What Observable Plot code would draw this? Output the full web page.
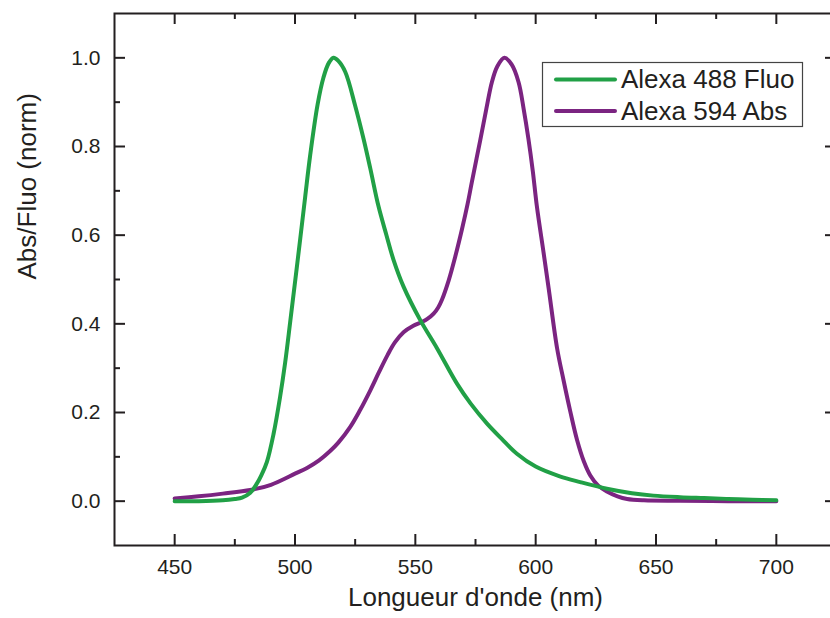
<!DOCTYPE html>
<html>
<head>
<meta charset="utf-8">
<script src="https://cdn.jsdelivr.net/npm/d3@7"></script>
<script src="https://cdn.jsdelivr.net/npm/@observablehq/plot@0.6"></script>
<style>
  html, body { margin: 0; padding: 0; background: #fff; overflow: hidden; }
  #wrap { position: relative; width: 830px; height: 618px; overflow: hidden; }
  #wrap svg { max-width: none !important; }
</style>
</head>
<body>
<div id="wrap"></div>
<script>
// ---- data ----
const fluoWavelength = [450, 460, 470, 475, 478, 481.4, 484.2, 486, 488.3, 491.1, 493.8, 495.9, 498, 500.1, 502.2, 504.2, 506.3, 509.4, 511.8, 514, 516, 518, 520.9, 525, 528.5, 531.3, 534.7, 538, 540.9, 545.1, 552, 559, 567.3, 573, 579.8, 586, 592.2, 600, 610, 618.5, 629.6, 640, 648.9, 660, 670, 680, 690, 700];
const fluoValue      = [0.0, 0.0, 0.002, 0.005, 0.008, 0.019, 0.040, 0.058, 0.088, 0.152, 0.235, 0.312, 0.404, 0.498, 0.593, 0.685, 0.78, 0.895, 0.955, 0.988, 1.0, 0.993, 0.968, 0.892, 0.817, 0.75, 0.665, 0.6, 0.545, 0.484, 0.409, 0.345, 0.265, 0.22, 0.175, 0.14, 0.107, 0.078, 0.056, 0.043, 0.028, 0.018, 0.0125, 0.009, 0.007, 0.005, 0.003, 0.002];

const absWavelength = [450, 460, 470, 481.4, 490, 500, 505, 510, 514.6, 518, 522.9, 527, 531.3, 535, 538.5, 541.5, 545.1, 549, 552.7, 555, 557.6, 559.5, 561.1, 563.8, 566.6, 569.4, 571.7, 573.5, 577, 579.5, 581.8, 584, 587, 590, 592.9, 595, 597, 598.8, 600.5, 603.3, 605.4, 608.9, 611.5, 614.4, 617.2, 620, 622.7, 626, 629.6, 634, 638, 645, 660, 680, 700];
const absValue      = [0.006, 0.011, 0.017, 0.025, 0.037, 0.062, 0.075, 0.092, 0.113, 0.132, 0.167, 0.205, 0.25, 0.292, 0.33, 0.358, 0.381, 0.395, 0.404, 0.411, 0.423, 0.437, 0.455, 0.497, 0.552, 0.614, 0.67, 0.72, 0.815, 0.885, 0.945, 0.98, 1.0, 0.985, 0.945, 0.885, 0.817, 0.745, 0.665, 0.56, 0.48, 0.345, 0.275, 0.202, 0.138, 0.09, 0.058, 0.035, 0.022, 0.011, 0.005, 0.002, 0.001, 0.0, 0.0];

const seriesNames  = ["Alexa 488 Fluo", "Alexa 594 Abs"];
const seriesColors = ["#21a046", "#7b2481"];

const xMajorTicks = [450, 500, 550, 600, 650, 700];
const xMinorTicks = [475, 525, 575, 625, 675];
const yMajorTicks = [0.0, 0.2, 0.4, 0.6, 0.8, 1.0];
const yMinorTicks = [0.1, 0.3, 0.5, 0.7, 0.9];

const xTitle = "Longueur d'onde (nm)";
const yTitle = "Abs/Fluo (norm)";

// ---- layout ----
const W = 836, H = 618, mL = 114, mT = 13, mR = 0, mB = 73;
const innerH = H - mT - mB;
const innerW = W - mL - mR;
const majorLen = 11, minorLen = 6;
const ink = "#231f20";
const font = "'Liberation Sans', Arial, Helvetica, sans-serif";

const fluo = fluoWavelength.map((w, i) => ({w, v: fluoValue[i]}));
const abs  = absWavelength.map((w, i) => ({w, v: absValue[i]}));

const tickStyle = {stroke: ink, strokeWidth: 2};

const chart = Plot.plot({
  width: W, height: H,
  marginLeft: mL, marginTop: mT, marginRight: mR, marginBottom: mB,
  style: {fontFamily: font, fontSize: "21px", color: ink, background: "#fff", maxWidth: "none"},
  x: {domain: [425, 725], axis: null},
  y: {domain: [-0.1, 1.1], axis: null},
  marks: [
    Plot.line(abs,  {x: "w", y: "v", stroke: seriesColors[1], strokeWidth: 4, curve: "catmull-rom"}),
    Plot.line(fluo, {x: "w", y: "v", stroke: seriesColors[0], strokeWidth: 4, curve: "catmull-rom"}),
    Plot.frame({stroke: ink, strokeWidth: 2}),
    Plot.tickX(xMajorTicks, {x: d => d, insetTop: innerH - majorLen, ...tickStyle}),
    Plot.tickX(xMajorTicks, {x: d => d, insetBottom: innerH - majorLen, ...tickStyle}),
    Plot.tickX(xMinorTicks, {x: d => d, insetTop: innerH - minorLen, ...tickStyle}),
    Plot.tickX(xMinorTicks, {x: d => d, insetBottom: innerH - minorLen, ...tickStyle}),
    Plot.tickY(yMajorTicks, {y: d => d, insetRight: innerW - majorLen, ...tickStyle}),
    Plot.tickY(yMajorTicks, {y: d => d, insetLeft: innerW - majorLen, ...tickStyle}),
    Plot.tickY(yMinorTicks, {y: d => d, insetRight: innerW - minorLen, ...tickStyle}),
    Plot.tickY(yMinorTicks, {y: d => d, insetLeft: innerW - minorLen, ...tickStyle}),
    Plot.text(xMajorTicks, {x: d => d, text: d => String(d), frameAnchor: "bottom", lineAnchor: "top", dy: 14, fontSize: 21, fill: ink}),
    Plot.text(yMajorTicks, {y: d => d, text: d => d.toFixed(1), frameAnchor: "left", textAnchor: "end", dx: -14, fontSize: 21, fill: ink}),
    Plot.text([xTitle], {text: d => d, frameAnchor: "bottom", dy: 60, fontSize: 26, fill: ink}),
    Plot.text([yTitle], {text: d => d, frameAnchor: "left", rotate: -90, dx: -87, fontSize: 26, fill: ink})
  ]
});

chart.style.maxWidth = "none";
document.getElementById("wrap").appendChild(chart);

// ---- legend ----
const svg = d3.select(chart);
const lg = svg.append("g").attr("class", "legend").attr("text-anchor", "start");
lg.append("rect")
  .attr("x", 542.5).attr("y", 62.5).attr("width", 260).attr("height", 64)
  .attr("fill", "#fff").attr("stroke", "#444").attr("stroke-width", 1.2);
const rowY = [79.5, 111];
seriesNames.forEach((name, i) => {
  lg.append("line")
    .attr("x1", 556).attr("x2", 615).attr("y1", rowY[i]).attr("y2", rowY[i])
    .attr("stroke", seriesColors[i]).attr("stroke-width", 4).attr("stroke-linecap", "round");
  lg.append("text")
    .attr("x", 621).attr("y", rowY[i] + 8.8)
    .attr("text-anchor", "start")
    .attr("font-size", 26).attr("font-family", font).attr("fill", ink)
    .text(name);
});
</script>
</body>
</html>
